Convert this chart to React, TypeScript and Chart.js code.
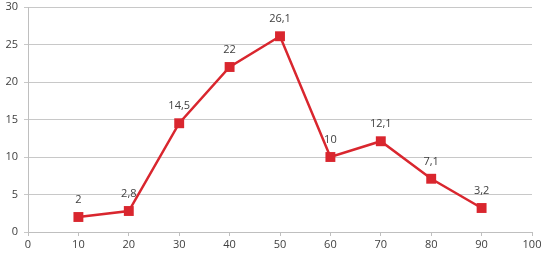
import React, { useEffect, useRef } from "react";
import { Chart, registerables } from "chart.js";

Chart.register(...registerables);

const xValues = [10, 20, 30, 40, 50, 60, 70, 80, 90];
const yValues = [2, 2.8, 14.5, 22, 26.1, 10, 12.1, 7.1, 3.2];
const pointLabels = ["2", "2,8", "14,5", "22", "26,1", "10", "12,1", "7,1", "3,2"];

const RED = "#d9262e";
const FONT = "'Open Sans', 'Liberation Sans', sans-serif";

const labelPlugin = {
  id: "pointLabels",
  afterDatasetsDraw(chart: any) {
    const ctx = chart.ctx;
    const meta = chart.getDatasetMeta(0);
    ctx.save();
    ctx.font = `11px ${FONT}`;
    ctx.fillStyle = "#404040";
    ctx.textAlign = "center";
    ctx.textBaseline = "middle";
    meta.data.forEach((pt: any, i: number) => {
      ctx.fillText(pointLabels[i], pt.x, pt.y - 17);
    });
    ctx.restore();
  },
};

export default function App() {
  const ref = useRef<HTMLCanvasElement>(null);
  useEffect(() => {
    document.body.style.margin = "0";
    const chart = new Chart(ref.current!, {
      type: "line",
      data: {
        datasets: [
          {
            data: xValues.map((x, i) => ({ x, y: yValues[i] })),
            borderColor: RED,
            backgroundColor: RED,
            borderWidth: 2.5,
            pointStyle: "rect",
            pointRadius: 7,
            pointBorderWidth: 0,
            tension: 0,
          },
        ],
      },
      options: {
        animation: false,
        responsive: false,
        layout: { padding: { top: 6, right: 12, left: 0, bottom: 0 } },
        plugins: { legend: { display: false }, tooltip: { enabled: false } },
        scales: {
          x: {
            type: "linear",
            min: 0,
            max: 100,
            ticks: { stepSize: 10, color: "#404040", font: { size: 11, family: FONT }, padding: 2 },
            grid: { drawOnChartArea: false, drawTicks: true, tickLength: 4, color: "#bfbfbf" },
            border: { color: "#bfbfbf" },
            afterFit: (s: any) => { s.height = 26; s.paddingRight = 0; s.paddingLeft = 0; },
          },
          y: {
            min: 0,
            max: 30,
            ticks: { stepSize: 5, color: "#404040", font: { size: 11, family: FONT }, padding: 6 },
            grid: { color: "#c8c8c8", tickLength: 4 },
            border: { color: "#bfbfbf" },
            afterFit: (s: any) => { s.width = 28; s.paddingTop = 0; s.paddingBottom = 0; },
          },
        },
      },
      plugins: [labelPlugin],
    });
    return () => chart.destroy();
  }, []);
  return (
    <div style={{ width: 544, height: 258 }}>
      <canvas ref={ref} width={544} height={258} />
    </div>
  );
}
